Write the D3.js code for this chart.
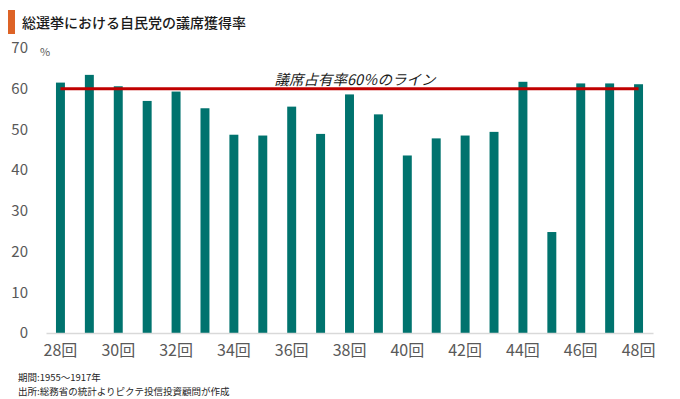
<!DOCTYPE html>
<html>
<head>
<meta charset="utf-8">
<script src="https://cdn.jsdelivr.net/npm/d3@7"></script>
<style>
  body { margin: 0; background: #fff; }
  text { font-family: "Noto Sans CJK JP", "Noto Sans", sans-serif; }
</style>
</head>
<body>
<div id="chart"></div>
<script>
// 回次 28〜48
const sessions = ['28', '29', '30', '31', '32', '33', '34', '35', '36', '37', '38',
  '39', '40', '41', '42', '43', '44', '45', '46', '47', '48'];
// 議席獲得率 (%)
const seatShare = [61.5, 63.4, 60.6, 57.0, 59.3, 55.2, 48.7, 48.5, 55.6, 48.9, 58.6,
  53.7, 43.6, 47.8, 48.5, 49.4, 61.7, 24.8, 61.3, 61.3, 61.1];
const yTicks = [0, 10, 20, 30, 40, 50, 60, 70];
const lineValue = 60;
const lineLabel = '議席占有率60％のライン';
const title = '総選挙における自民党の議席獲得率';
const notes = ['期間:1955～1917年', '出所:総務省の統計よりピクテ投信投資顧問が作成'];

const width = 680, height = 399;
const margin = {top: 48, right: 27, bottom: 66, left: 46};

const svg = d3.select('#chart')
  .append('svg')
  .attr('width', width)
  .attr('height', height);

// Title
svg.append('rect')
  .attr('x', 8).attr('y', 10)
  .attr('width', 7).attr('height', 24)
  .attr('fill', '#dd6326');

svg.append('text')
  .attr('x', 22).attr('y', 28)
  .attr('font-size', 14)
  .attr('font-weight', 500)
  .attr('fill', '#1a1a1a')
  .text(title);

// Scales
const x = d3.scaleBand()
  .domain(sessions)
  .range([margin.left, width - margin.right])
  .paddingInner(0.69)
  .paddingOuter(0.345);

const y = d3.scaleLinear()
  .domain([0, 70])
  .range([height - margin.bottom, margin.top]);

// Y axis labels
const yAxis = svg.append('g')
  .attr('transform', `translate(28,0)`)
  .call(d3.axisLeft(y).tickValues(yTicks).tickSize(0).tickPadding(0));
yAxis.select('.domain').remove();
yAxis.selectAll('text')
  .attr('font-size', 15)
  .attr('fill', '#595959');

svg.append('text')
  .attr('x', 40).attr('y', 56)
  .attr('font-size', 11)
  .attr('fill', '#595959')
  .text('%');

// Bars
svg.selectAll('rect.bar')
  .data(seatShare)
  .enter()
  .append('rect')
  .attr('class', 'bar')
  .attr('x', (d, i) => x(sessions[i]))
  .attr('y', d => y(d))
  .attr('width', x.bandwidth())
  .attr('height', d => y(0) - y(d))
  .attr('fill', '#00736e');

// X axis
const xAxis = svg.append('g')
  .attr('transform', `translate(0,${y(0)})`)
  .call(d3.axisBottom(x)
    .tickValues(sessions.filter((d, i) => i % 2 === 0))
    .tickFormat(d => d + '回')
    .tickSize(0).tickPadding(12));
xAxis.select('.domain').attr('stroke', '#d9d9d9').attr('stroke-width', 1.5);
xAxis.selectAll('text')
  .attr('font-size', 16)
  .attr('fill', '#595959');

// 60% line
const first = sessions[0], last = sessions[sessions.length - 1];
svg.append('line')
  .attr('x1', x(first) + x.bandwidth() / 2)
  .attr('x2', x(last) + x.bandwidth() / 2)
  .attr('y1', y(lineValue))
  .attr('y2', y(lineValue))
  .attr('stroke', '#c00000')
  .attr('stroke-width', 3);

svg.append('text')
  .attr('x', 355).attr('y', 85)
  .attr('text-anchor', 'middle')
  .attr('font-size', 14.5)
  .attr('font-style', 'italic')
  .attr('fill', '#1a1a1a')
  .text(lineLabel);

// Notes
svg.selectAll('text.note')
  .data(notes)
  .enter()
  .append('text')
  .attr('class', 'note')
  .attr('x', 18)
  .attr('y', (d, i) => 381 + i * 13.5)
  .attr('font-size', 9.5)
  .attr('fill', '#262626')
  .text(d => d);
</script>
</body>
</html>
